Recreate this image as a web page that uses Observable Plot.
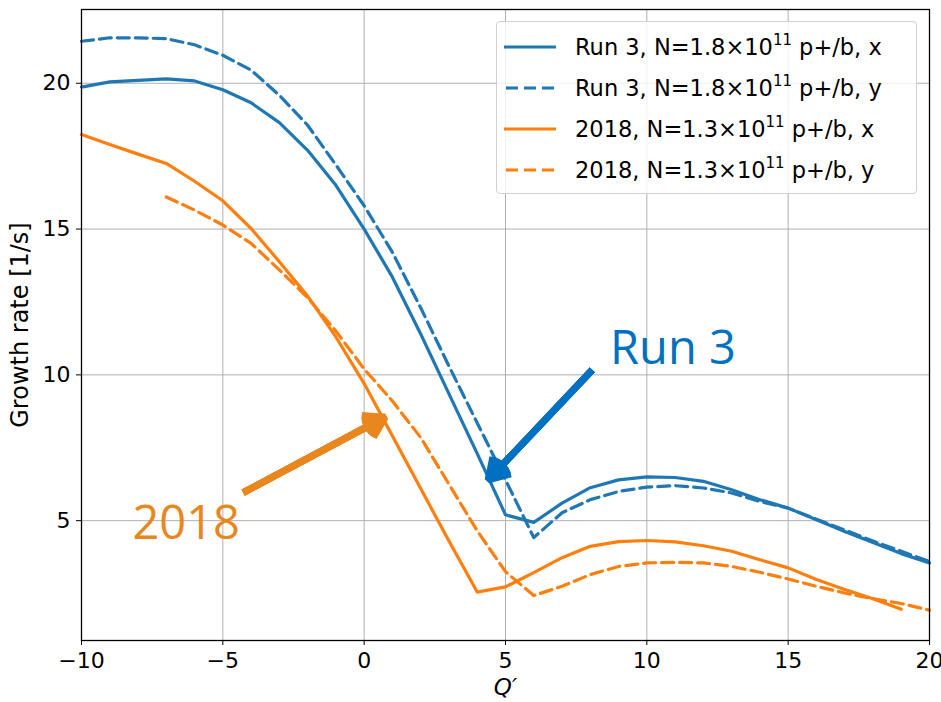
<!DOCTYPE html>
<html>
<head>
<meta charset="utf-8">
<script src="https://cdn.jsdelivr.net/npm/d3@7"></script>
<script src="https://cdn.jsdelivr.net/npm/@observablehq/plot@0.6"></script>
<style>
  html, body { margin: 0; padding: 0; background: #fff; }
  #wrap { position: relative; width: 941px; height: 702px; }
  #legend {
    position: absolute; left: 496px; top: 21px; width: 421px; height: 173px;
    border: 1px solid #d0d0d0; border-radius: 4px; background: rgba(255,255,255,0.8);
    box-sizing: border-box; font-family: "DejaVu Sans", sans-serif; font-size: 22.5px; color: #000;
  }
  #legend .row { position: absolute; left: 0; height: 30px; width: 100%; }
  #legend svg { position: absolute; left: 6px; top: 0; }
  #legend .lab { position: absolute; left: 78px; top: 0; line-height: 30px; white-space: nowrap; }
  #legend sup { font-size: 15px; vertical-align: 0; position: relative; top: -10px; }
</style>
</head>
<body>
<div id="wrap"></div>
<script>
// Q' values
const qValues = d3.range(-10, 21);
// Run 3, x plane (Q' = -10 .. 20)
const run3X = [19.87, 20.05, 20.1, 20.15, 20.08, 19.78, 19.33, 18.65, 17.7, 16.5, 15.0, 13.35, 11.4, 9.35, 7.3, 5.2, 4.94, 5.6, 6.13, 6.4, 6.5, 6.48, 6.35, 6.06, 5.72, 5.43, 5.03, 4.63, 4.25, 3.87, 3.55];
// Run 3, y plane (Q' = -10 .. 20)
const run3Y = [21.44, 21.56, 21.56, 21.53, 21.32, 20.96, 20.45, 19.59, 18.56, 17.2, 15.8, 14.2, 12.3, 10.3, 8.35, 6.4, 4.42, 5.27, 5.72, 6.0, 6.15, 6.2, 6.12, 5.95, 5.66, 5.43, 5.05, 4.68, 4.3, 3.95, 3.6];
// 2018, x plane (Q' = -10 .. 19)
const y2018X = [18.24, 17.9, 17.57, 17.25, 16.64, 15.97, 15.02, 13.88, 12.7, 11.3, 9.7, 7.9, 6.1, 4.3, 2.55, 2.73, 3.22, 3.73, 4.12, 4.28, 4.32, 4.27, 4.14, 3.95, 3.66, 3.38, 2.98, 2.64, 2.32, 1.96];
// 2018, y plane (Q' = -7 .. 20)
const y2018Y = [16.1, 15.65, 15.14, 14.51, 13.6, 12.65, 11.5, 10.2, 9.1, 7.85, 6.25, 4.65, 3.25, 2.43, 2.75, 3.15, 3.43, 3.55, 3.57, 3.55, 3.43, 3.23, 3.0, 2.75, 2.52, 2.32, 2.16, 1.93];

const xTicks = [-10, -5, 0, 5, 10, 15, 20];
const yTicks = [5, 10, 15, 20];

const seriesNames = ["Run 3, N=1.8×10¹¹ p+/b, x", "Run 3, N=1.8×10¹¹ p+/b, y", "2018, N=1.3×10¹¹ p+/b, x", "2018, N=1.3×10¹¹ p+/b, y"];
const seriesColors = ["#1f77b4", "#1f77b4", "#ff7f0e", "#ff7f0e"];
const seriesDash = [null, "12,6", null, "12,6"];

// annotations (data coordinates)
const annoTexts = [
  {label: "Run 3", x: 8.7, y: 10.9, color: "#0070c0"},
  {label: "2018", x: -8.2, y: 4.9, color: "#e8871e"}
];
const annoArrows = [
  {x1: 8.07, y1: 10.17, x2: 4.39, y2: 6.40, color: "#0070c0"},
  {x1: -4.28, y1: 5.96, x2: 0.74, y2: 8.55, color: "#e8871e"}
];
const headAngles = [64, 48, 32, 16];

const toRows = (vals, start) => vals.map((v, i) => ({q: start + i, v}));
const series = [
  toRows(run3X, -10),
  toRows(run3Y, -10),
  toRows(y2018X, -10),
  toRows(y2018Y, -7)
];

const lineMarks = series.map((rows, i) => Plot.line(rows, {
  x: "q", y: "v", stroke: seriesColors[i], strokeWidth: 3.2,
  strokeDasharray: seriesDash[i] ?? undefined, strokeLinejoin: "round"
}));

const arrowMarks = headAngles.map(a => Plot.arrow(annoArrows, {
  x1: "x1", y1: "y1", x2: "x2", y2: "y2", stroke: "color",
  strokeWidth: 7, headLength: 5, headAngle: a, strokeLinecap: "butt", strokeLinejoin: "miter"
}));

const chart = Plot.plot({
  width: 941,
  height: 702,
  marginLeft: 81,
  marginRight: 12,
  marginTop: 9,
  marginBottom: 62,
  style: {fontFamily: "DejaVu Sans, sans-serif", fontSize: "22px", color: "#000", background: "#fff"},
  x: {domain: [-10, 20]},
  y: {domain: [0.89, 22.53]},
  marks: [
    Plot.gridX(xTicks, {stroke: "#b0b0b0", strokeOpacity: 1, strokeWidth: 1}),
    Plot.gridY(yTicks, {stroke: "#b0b0b0", strokeOpacity: 1, strokeWidth: 1}),
    ...lineMarks,
    ...arrowMarks,
    Plot.text(annoTexts, {x: "x", y: "y", text: "label", fill: "color", textAnchor: "start", fontSize: 47, fontFamily: "Open Sans, sans-serif"}),
    Plot.frame({stroke: "#000", strokeWidth: 1.3}),
    Plot.axisX(xTicks, {tickSize: 5, tickPadding: 7, fontSize: 22, label: null}),
    Plot.axisY(yTicks, {tickSize: 5, tickPadding: 6, fontSize: 22, label: null}),
    Plot.text(["Q′"], {frameAnchor: "bottom", textAnchor: "middle", lineAnchor: "middle", dy: 47, fontStyle: "italic", fontSize: 23}),
    Plot.text(["Growth rate [1/s]"], {frameAnchor: "left", textAnchor: "middle", dx: -61, rotate: -90, fontSize: 24})
  ]
});

const wrap = document.getElementById("wrap");
wrap.appendChild(chart);

// legend
const legend = document.createElement("div");
legend.id = "legend";
const rowTops = [10, 51, 92, 133];
seriesNames.forEach((name, i) => {
  const row = document.createElement("div");
  row.className = "row";
  row.style.top = rowTops[i] + "px";
  const svgNS = "http://www.w3.org/2000/svg";
  const svg = document.createElementNS(svgNS, "svg");
  svg.setAttribute("width", "56"); svg.setAttribute("height", "30");
  const ln = document.createElementNS(svgNS, "line");
  ln.setAttribute("x1", "1"); ln.setAttribute("x2", "53");
  ln.setAttribute("y1", "15"); ln.setAttribute("y2", "15");
  ln.setAttribute("stroke", seriesColors[i]); ln.setAttribute("stroke-width", "3.2");
  if (seriesDash[i]) { ln.setAttribute("stroke-dasharray", seriesDash[i]); ln.setAttribute("stroke-dashoffset", "-2"); }
  svg.appendChild(ln);
  row.appendChild(svg);
  const lab = document.createElement("div");
  lab.className = "lab";
  const parts = name.split("¹¹");
  lab.innerHTML = parts[0] + "<sup>11</sup>" + parts[1];
  row.appendChild(lab);
  legend.appendChild(row);
});
wrap.appendChild(legend);
</script>
</body>
</html>
